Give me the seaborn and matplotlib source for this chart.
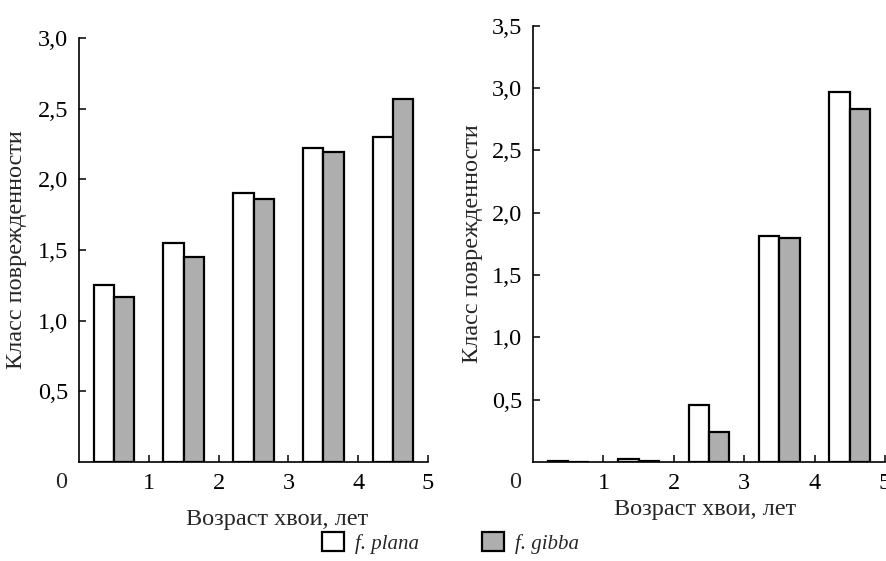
import matplotlib
matplotlib.use('Agg')
import matplotlib.pyplot as plt
from matplotlib.patches import Patch
import pandas
import seaborn

# Needle age groups (bar centres on a 0-5 year axis)
age = [0.5, 1.5, 2.5, 3.5, 4.5]
forms = ['f. plana', 'f. gibba']

# Left panel: damage class by needle age
left_plana = [1.25, 1.55, 1.90, 2.22, 2.30]
left_gibba = [1.17, 1.45, 1.86, 2.19, 2.57]

# Right panel
right_plana = [0.01, 0.02, 0.46, 1.81, 2.97]
right_gibba = [0.0, 0.01, 0.24, 1.80, 2.83]

x_ticks = [1, 2, 3, 4, 5]
left_y_ticks = [0.5, 1.0, 1.5, 2.0, 2.5, 3.0]
right_y_ticks = [0.5, 1.0, 1.5, 2.0, 2.5, 3.0, 3.5]

colors = ['white', '#aeaeae']

seaborn.set_theme(style = 'ticks')
plt.rcParams['font.family'] = ['Liberation Serif', 'DejaVu Serif']
plt.rcParams['font.size'] = 17.5


def make_frame(plana, gibba):
    return pandas.DataFrame({
        'age': age * 2,
        'value': plana + gibba,
        'form': [forms[0]] * len(age) + [forms[1]] * len(age)
    })


def draw_panel(ax, plana, gibba, y_max, y_ticks, xlab_pos, ylab_pos):
    seaborn.barplot(data = make_frame(plana, gibba), x = 'age', y = 'value', hue = 'form',
                    hue_order = forms, palette = colors, native_scale = True, width = 0.58,
                    edgecolor = 'black', linewidth = 1.6, errorbar = None, legend = False, ax = ax)
    ax.set_xlim(0, 5)
    ax.set_ylim(0, y_max)
    ax.set_xticks(x_ticks)
    ax.set_xticklabels([str(t) for t in x_ticks])
    ax.set_yticks(y_ticks)
    ax.set_yticklabels([('%.1f' % t).replace('.', ',') for t in y_ticks])
    ax.tick_params(direction = 'in', length = 5, width = 1.1, labelsize = 17.5, colors = 'black')
    ax.tick_params(axis = 'y', pad = 8)
    ax.tick_params(axis = 'x', pad = 8)
    for s in ['top', 'right']:
        ax.spines[s].set_visible(False)
    for s in ['left', 'bottom']:
        ax.spines[s].set_linewidth(1.2)
        ax.spines[s].set_color('black')
    ax.set_xlabel('Возраст хвои, лет', fontsize = 17.5)
    ax.set_ylabel('Класс поврежденности', fontsize = 17.5)
    ax.xaxis.set_label_coords(*xlab_pos)
    ax.yaxis.set_label_coords(*ylab_pos)
    ax.annotate('0', xy = (0, 0), xytext = (-18, -21), textcoords = 'offset pixels',
                ha = 'center', va = 'center', fontsize = 17.5)
    ax.patch.set_visible(False)


fig = plt.figure(figsize = (8.87, 5.61), dpi = 100)
ax1 = fig.add_axes([0.0891, 0.1765, 0.3934, 0.7558])
ax2 = fig.add_axes([0.6010, 0.1765, 0.3968, 0.7777])

draw_panel(ax1, left_plana, left_gibba, 3.0, left_y_ticks, (0.567, -0.112), (-0.15, 0.5))
draw_panel(ax2, right_plana, right_gibba, 3.5, right_y_ticks, (0.489, -0.085), (-0.143, 0.5))

handles = [Patch(facecolor = c, edgecolor = 'black', linewidth = 1.6) for c in colors]
fig.legend(handles, forms, loc = 'center', bbox_to_anchor = (0.508, 0.032), ncol = 2,
           frameon = False, handlelength = 1.05, handleheight = 1.05, handletextpad = 0.55,
           columnspacing = 3.0, prop = {'family': 'Liberation Serif', 'style': 'italic', 'size': 15})

plt.savefig('out.png', dpi = 100)
